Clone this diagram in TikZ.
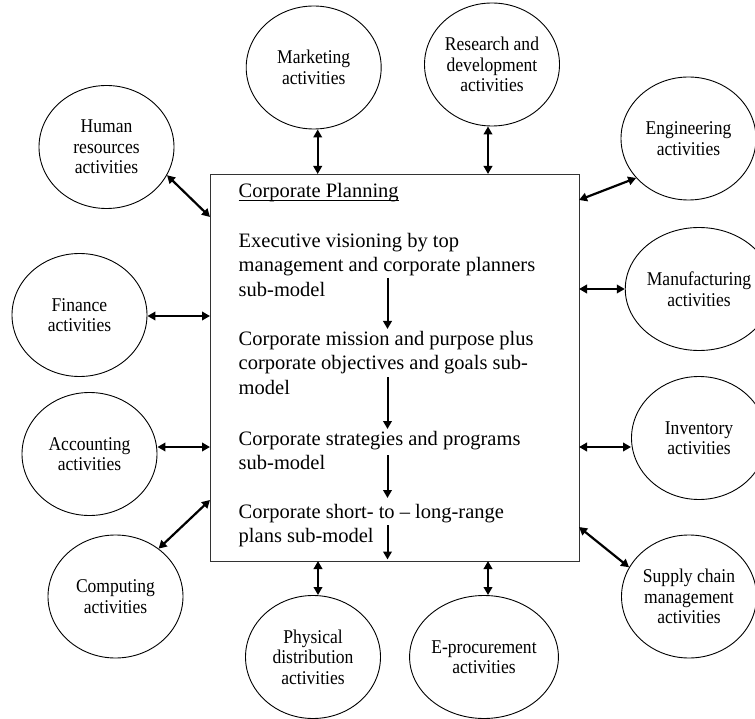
\documentclass[tikz,border=0pt]{standalone}
\usepackage{fontspec}
\setmainfont{Liberation Serif}
\newfontfamily\ellfont[FakeStretch=0.9]{Liberation Serif}
\usetikzlibrary{arrows.meta,shapes.geometric,calc}

\begin{document}
\begin{tikzpicture}[x=1pt,y=-1pt,
  activity/.style={draw=black, line width=0.9pt, ellipse,
    minimum width=135pt, minimum height=123pt, inner sep=0pt,
    align=center, font=\ellfont\fontsize{19.5}{20.5}\selectfont},
  link/.style={line width=2.2pt,
    {Triangle[length=8pt,width=8.5pt]}-{Triangle[length=8pt,width=8.5pt]}},
  flow/.style={line width=2pt, -{Triangle[length=8pt,width=8.5pt]}},
  planbox/.style={draw=black!80, line width=1.3pt, inner sep=0pt,
    minimum width=369pt, minimum height=387pt, anchor=north west},
  boxline/.style={anchor=base west, inner sep=0pt,
    font=\fontsize{20.5}{24.5}\selectfont}
]
\useasboundingbox (0,0) rectangle (755,719);

% central planning box
\node[planbox] (box) at (210,174) {};

% text inside the box
\node[boxline] (cp) at (238.5,198) {Corporate Planning};
\draw[line width=1pt] ($(cp.base west)+(0,2.8)$) -- ($(cp.base east)+(0,2.8)$);

\node[boxline] (a1) at (238.5,247.3) {Executive visioning by top};
\node[boxline] (a2) at (238.5,271.8) {management and corporate planners};
\node[boxline] (a3) at (238.5,296.5) {sub-model};

\node[boxline] (b1) at (238.5,345.5) {Corporate mission and purpose plus};
\node[boxline] (b2) at (238.5,370) {corporate objectives and goals sub-};
\node[boxline] (b3) at (238.5,394.5) {model};

\node[boxline] (c1) at (238.5,445.5) {Corporate strategies and programs};
\node[boxline] (c2) at (238.5,469.5) {sub-model};

\node[boxline] (d1) at (238.5,518) {Corporate short- to – long-range};
\node[boxline] (d2) at (238.5,542) {plans sub-model};

% flow between the sub-models
\coordinate (f1a) at (387.5,278);  \coordinate (f1b) at (387.5,329);
\coordinate (f2a) at (387.5,377);  \coordinate (f2b) at (387.5,429);
\coordinate (f3a) at (387.5,455);  \coordinate (f3b) at (387.5,498);
\coordinate (f4a) at (387.5,525);  \coordinate (f4b) at (387.5,559.5);
\draw[flow] (f1a) -- (f1b);
\draw[flow] (f2a) -- (f2b);
\draw[flow] (f3a) -- (f3b);
\draw[flow] (f4a) -- (f4b);

% surrounding activities
\node[activity] (hr)  at (106.5,147)   {Human\\resources\\activities};
\node[activity] (mkt) at (313.7,67.5)  {Marketing\\activities};
\node[activity] (rd)  at (492,64.5)    {Research and\\development\\activities};
\node[activity] (eng) at (688.5,138.5) {Engineering\\activities};
\node[activity] (fin) at (79.5,315)    {Finance\\activities};
\node[activity] (mfg) at (699,289)     {Manufacturing\\activities};
\node[activity] (acc) at (89.5,454)    {Accounting\\activities};
\node[activity] (inv) at (699,438)     {Inventory\\activities};
\node[activity] (cmp) at (115.5,596.5) {Computing\\activities};
\node[activity] (sup) at (689,596.5)   {Supply chain\\management\\activities};
\node[activity] (phy) at (313,657)     {Physical\\distribution\\activities};
\node[activity] (epr) at (484,657)     {E-procurement\\activities};

% attachment points on the box
\coordinate (bHR)  at (210,217);
\coordinate (bMkt) at (317.7,174);
\coordinate (bRD)  at (488,174);
\coordinate (bEng) at (579,200);
\coordinate (bFin) at (210,316);
\coordinate (bMfg) at (579,289);
\coordinate (bAcc) at (210,447);
\coordinate (bInv) at (579,447);
\coordinate (bCmp) at (210,500);
\coordinate (bSup) at (579,527);
\coordinate (bPhy) at (318,561);
\coordinate (bEpr) at (488,561);

% two-way links
\draw[link] (hr.-25) -- (bHR);
\draw[link] (mkt.south -| bMkt) -- (bMkt);
\draw[link] (rd.south -| bRD) -- (bRD);
\draw[link] (eng.217) -- (bEng);
\draw[link] (fin.east |- bFin) -- (bFin);
\draw[link] (bMfg) -- (mfg.west |- bMfg);
\draw[link] (acc.east |- bAcc) -- (bAcc);
\draw[link] (bInv) -- (inv.west |- bInv);
\draw[link] (cmp.48) -- (bCmp);
\draw[link] (bSup) -- (sup.154);
\draw[link] (bPhy) -- (phy.north -| bPhy);
\draw[link] (bEpr) -- (epr.north -| bEpr);
\end{tikzpicture}
\end{document}
